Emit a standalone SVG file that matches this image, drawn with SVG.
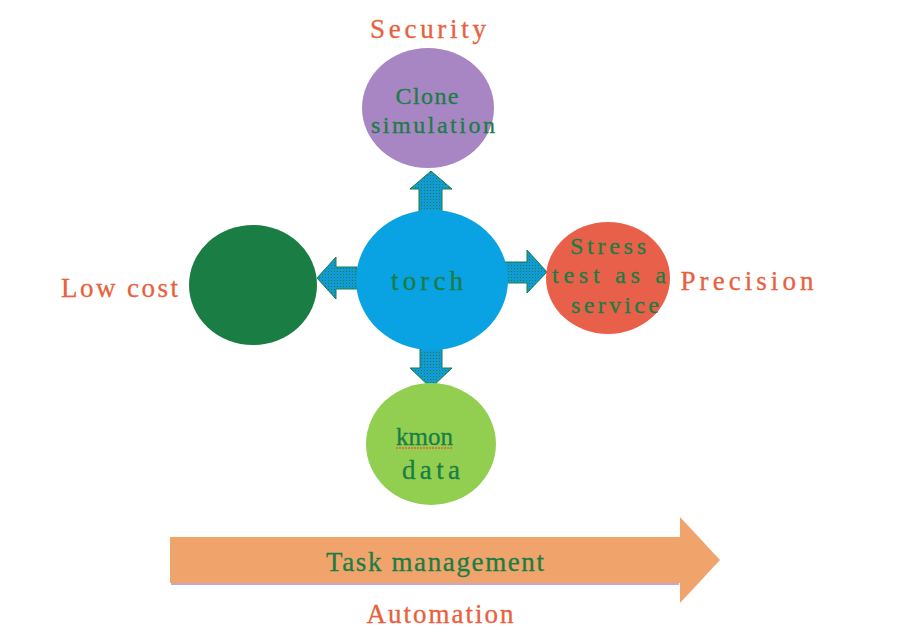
<svg xmlns="http://www.w3.org/2000/svg" width="898" height="640" viewBox="0 0 898 640">
<defs>
<pattern id="dots" width="3" height="3" patternUnits="userSpaceOnUse">
<rect width="3" height="3" fill="#109bd6"/>
<rect x="1" y="1" width="1" height="1" fill="#1a7d44"/>
</pattern>
</defs>
<style>
.lbl{font-family:"Liberation Serif","DejaVu Serif",serif;text-anchor:middle;fill:#1a7d44;stroke:#1a7d44;stroke-width:0.3;font-size:24px}
.big{font-size:27px}
.out{font-family:"Liberation Serif","DejaVu Serif",serif;text-anchor:middle;fill:#e8603c;stroke:#e8603c;stroke-width:0.3;font-size:27px}
.arr{fill:url(#dots);stroke:#1a7d44;stroke-width:1}
.shadow{fill:none;stroke:#c8a8c8;stroke-width:2}
</style>
<rect width="898" height="640" fill="#ffffff"/>

<g id="connectors">
<path class="arr" d="M419,212 L419,189 L410,189 L431,171 L452,189 L442,189 L442,212 Z"/>
<path class="arr" d="M505,262 L527,262 L527,250 L547,272 L527,293 L527,283 L505,283 Z"/>
<path class="arr" d="M420,348 L420,368 L410,368 L431,388 L452,368 L442,368 L442,348 Z"/>
<path class="arr" d="M357,267 L336,267 L336,257 L317,278 L336,299 L336,289 L357,289 Z"/>
</g>

<g id="node-security">
<ellipse cx="428" cy="108" rx="66" ry="60" fill="#a886c4"/>
<text class="lbl" x="427" y="104" textLength="63" lengthAdjust="spacing">Clone</text>
<text class="lbl" x="433" y="133" textLength="124" lengthAdjust="spacing">simulation</text>
</g>

<g id="node-torch">
<ellipse cx="432" cy="280" rx="76" ry="70" fill="#09a3e3"/>
<text class="lbl big" x="427" y="290" textLength="72" lengthAdjust="spacing">torch</text>
</g>

<g id="node-lowcost">
<ellipse cx="253" cy="285" rx="64" ry="60" fill="#1a7d44"/>
</g>

<g id="node-precision">
<ellipse cx="608" cy="278" rx="62" ry="56" fill="#e8604a"/>
<text class="lbl" x="608" y="254" textLength="76" lengthAdjust="spacing">Stress</text>
<text class="lbl" x="609" y="283" textLength="114" lengthAdjust="spacing">test as a</text>
<text class="lbl" x="615" y="313" textLength="88" lengthAdjust="spacing">service</text>
</g>

<g id="node-kmon">
<ellipse cx="431" cy="444" rx="65" ry="61" fill="#92cf50"/>
<text class="lbl" x="424.5" y="445" style="font-size:25px">kmon</text>
<path d="M396,448 L453,448" stroke="#e8603c" stroke-width="1.5" stroke-dasharray="2,1" fill="none"/>
<text class="lbl big" x="431" y="479" textLength="58" lengthAdjust="spacing">data</text>
</g>

<g id="node-task">
<path d="M170,537 L680,537 L680,517 L720,560 L680,603 L680,583 L170,583 Z" fill="#f0a46c"/>
<path class="shadow" d="M171,584 L679,584"/>
<text class="lbl big" x="435" y="571" textLength="218" lengthAdjust="spacing">Task management</text>
</g>

<g id="labels">
<text class="out" x="428" y="38" textLength="116" lengthAdjust="spacing">Security</text>
<text class="out" x="747" y="290" textLength="133" lengthAdjust="spacing">Precision</text>
<text class="out" x="119.5" y="297" textLength="117" lengthAdjust="spacing">Low cost</text>
<text class="out" x="440" y="623" textLength="147" lengthAdjust="spacing">Automation</text>
</g>
</svg>
